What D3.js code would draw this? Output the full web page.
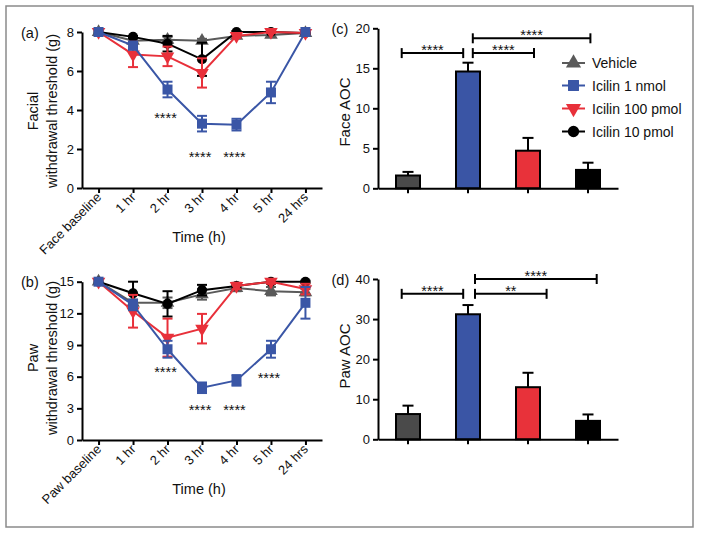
<!DOCTYPE html>
<html><head><meta charset="utf-8">
<script src="https://cdn.jsdelivr.net/npm/d3@7"></script>
<style>body{margin:0;background:#fff}svg{display:block}text{font-family:"Liberation Sans",Arial,Helvetica,sans-serif;fill:#111}</style>
</head><body><svg id="chart" width="701" height="536"></svg>
<script>
// ---------- DATA ----------
const faceCats = ["Face baseline","1 hr","2 hr","3 hr","4 hr","5 hr","24 hrs"];
const pawCats  = ["Paw baseline","1 hr","2 hr","3 hr","4 hr","5 hr","24 hrs"];
const seriesNames = ["Vehicle","Icilin 1 nmol","Icilin 100 pmol","Icilin 10 pmol"];

const faceVehicle    = [8, 7.55, 7.6, 7.55, 7.8, 7.85, 7.95];
const faceVehicleErr = [0, 0.1, 0.15, 0.1, 0.1, 0.1, 0.05];
const faceIc1n       = [8, 7.3, 5.05, 3.3, 3.25, 4.9, 8];
const faceIc1nErr    = [0, 0.2, 0.4, 0.4, 0.3, 0.55, 0];
const faceIc100p     = [8, 6.85, 6.75, 5.9, 7.8, 8.0, 7.95];
const faceIc100pErr  = [0, 0.65, 0.5, 0.75, 0.1, 0.05, 0.05];
const faceIc10p      = [8, 7.75, 7.4, 6.6, 8.0, 8.0, 7.95];
const faceIc10pErr   = [0, 0.05, 0.4, 0.85, 0.05, 0.05, 0.05];

const pawVehicle    = [15, 13.0, 13.0, 13.8, 14.4, 14.1, 14.0];
const pawVehicleErr = [0, 0.3, 0.5, 0.5, 0.3, 0.4, 0.3];
const pawIc1n       = [15, 12.8, 8.6, 4.95, 5.65, 8.6, 13.0];
const pawIc1nErr    = [0, 0.5, 0.8, 0.5, 0.5, 0.8, 1.5];
const pawIc100p     = [15, 12.2, 9.7, 10.55, 14.6, 15.0, 14.3];
const pawIc100pErr  = [0, 1.55, 1.8, 1.4, 0.3, 0.2, 0.5];
const pawIc10p      = [15, 13.9, 12.9, 14.2, 14.6, 15.0, 15.0];
const pawIc10pErr   = [0, 1.1, 1.2, 0.5, 0.2, 0.2, 0.1];

const faceAOC    = [1.6, 14.6, 4.7, 2.3];
const faceAOCErr = [0.45, 1.1, 1.6, 0.9];
const pawAOC     = [6.3, 31.2, 13.0, 4.6];
const pawAOCErr  = [2.1, 2.3, 3.6, 1.6];

const faceTicks = [0,2,4,6,8];
const pawTicks  = [0,3,6,9,12,15];
const faceAOCTicks = [0,5,10,15,20];
const pawAOCTicks  = [0,10,20,30,40];

const faceStars = [{cat:"2 hr", v:3.75, t:"****"},{cat:"3 hr", v:1.75, t:"****"},{cat:"4 hr", v:1.75, t:"****"}];
const pawStars  = [{cat:"2 hr", v:6.7, t:"****"},{cat:"3 hr", v:3.15, t:"****"},{cat:"4 hr", v:3.15, t:"****"},{cat:"5 hr", v:6.15, t:"****"}];
// brackets: from/to in group units (0 = first bar), level in data units
const faceBrackets = [{from:-0.105,to:0.92,level:16.9,t:"****"},{from:1.08,to:2.1,level:16.9,t:"****"},{from:1.08,to:3.04,level:18.75,t:"****"}];
const pawBrackets  = [{from:-0.105,to:0.92,level:36.3,t:"****"},{from:1.117,to:2.31,level:36.3,t:"**"},{from:1.117,to:3.145,level:40,t:"****"}];

// ---------- STYLE ----------
const lineColors = ["#5a5a5a","#3a56a6","#e8303a","#000000"];
const barColors  = ["#4a4a4a","#3a55a5","#e8323a","#000000"];
const symbols = [d3.symbolTriangle, d3.symbolSquare, d3.symbolTriangle, d3.symbolCircle];
const symSizes = [80, 100, 80, 80];
const symRot = [0, 0, 180, 0];
const drawOrder = [0,3,2,1];

const svg = d3.select("#chart");
svg.append("rect").attr("x",6).attr("y",6).attr("width",687).attr("height",521)
  .attr("fill","none").attr("stroke","#8a8a8a").attr("stroke-width",1.5);

function styleAxis(g){
  g.selectAll("path,line").attr("stroke","#000").attr("stroke-width",2);
  g.selectAll("text").style("font-size","13px").attr("fill","#111");
}

function linePanel(cats, seriesVals, seriesErr, ticks, yMax, yRange, stars, letter, ylab1, ylab2, labCy, timeY){
  const x = d3.scalePoint().domain(cats).range([82,322]).padding(0.48);
  const y = d3.scaleLinear().domain([0,yMax]).range(yRange);
  const gy = svg.append("g").attr("transform","translate(82,0)")
    .call(d3.axisLeft(y).tickValues(ticks).tickSize(5).tickSizeOuter(0).tickPadding(3));
  styleAxis(gy);
  const gx = svg.append("g").attr("transform",`translate(0,${yRange[0]})`)
    .call(d3.axisBottom(x).tickSize(5).tickSizeOuter(0));
  styleAxis(gx);
  gx.selectAll(".tick text").attr("transform","translate(3,10) rotate(-45)")
    .attr("x",0).attr("y",0).attr("dy",0).style("text-anchor","end");

  drawOrder.forEach(s=>{
    const vals = seriesVals[s], errs = seriesErr[s], col = lineColors[s];
    const g = svg.append("g");
    g.append("path").datum(vals.map((v,i)=>[x(cats[i]), y(v)]))
      .attr("d", d3.line()).attr("fill","none").attr("stroke",col).attr("stroke-width",2);
    vals.forEach((v,i)=>{
      const e = errs[i]; if(!e) return;
      const cx = x(cats[i]);
      g.append("line").attr("x1",cx).attr("x2",cx).attr("y1",y(v-e)).attr("y2",y(v+e)).attr("stroke",col).attr("stroke-width",2);
      [v-e, v+e].forEach(t=> g.append("line").attr("x1",cx-5).attr("x2",cx+5).attr("y1",y(t)).attr("y2",y(t)).attr("stroke",col).attr("stroke-width",2));
    });
    vals.forEach((v,i)=>{
      g.append("path").attr("d", d3.symbol().type(symbols[s]).size(symSizes[s])())
        .attr("transform",`translate(${x(cats[i])},${y(v)}) rotate(${symRot[s]})`).attr("fill",col);
    });
  });

  stars.forEach(st=>{
    svg.append("text").attr("x",x(st.cat)-2).attr("y",y(st.v)+8).attr("text-anchor","middle")
      .style("font-size","14.5px").text(st.t);
  });

  svg.append("text").attr("x",21).attr("y",yRange[1]+5.5).style("font-size","14.5px").text(letter);
  svg.append("text").attr("transform",`translate(38,${labCy}) rotate(-90)`).attr("text-anchor","middle")
    .style("font-size","14.5px").text(ylab1);
  svg.append("text").attr("transform",`translate(56.5,${labCy}) rotate(-90)`).attr("text-anchor","middle")
    .style("font-size","14.5px").text(ylab2);
  svg.append("text").attr("x",199).attr("y",timeY).attr("text-anchor","middle").style("font-size","14.5px").text("Time (h)");
}

function barPanel(vals, errs, ticks, yMax, yRange, brackets, letter, ylab, labCy){
  const x = d3.scaleBand().domain(seriesNames).range([378,618]).paddingInner(0.6).paddingOuter(0.3);
  const y = d3.scaleLinear().domain([0,yMax]).range(yRange);
  const cx = i => x(seriesNames[i]) + x.bandwidth()/2;
  const gu = u => cx(0) + u * x.step();
  vals.forEach((v,i)=>{
    const c = cx(i);
    svg.append("line").attr("x1",c).attr("x2",c).attr("y1",y(v)).attr("y2",y(v+errs[i])).attr("stroke","#000").attr("stroke-width",2);
    svg.append("line").attr("x1",c-5.5).attr("x2",c+5.5).attr("y1",y(v+errs[i])).attr("y2",y(v+errs[i])).attr("stroke","#000").attr("stroke-width",2);
    svg.append("rect").attr("x",x(seriesNames[i])).attr("y",y(v)).attr("width",x.bandwidth()).attr("height",y(0)-y(v))
      .attr("fill",barColors[i]).attr("stroke","#000").attr("stroke-width",2);
  });
  const gy = svg.append("g").attr("transform","translate(378,0)")
    .call(d3.axisLeft(y).tickValues(ticks).tickSize(5).tickSizeOuter(0).tickPadding(3));
  styleAxis(gy);
  const gx = svg.append("g").attr("transform",`translate(0,${yRange[0]})`)
    .call(d3.axisBottom(x).tickSize(5).tickSizeOuter(0).tickFormat(""));
  styleAxis(gx);
  brackets.forEach(b=>{
    const x1 = gu(b.from), x2 = gu(b.to), yy = y(b.level);
    svg.append("line").attr("x1",x1).attr("x2",x2).attr("y1",yy).attr("y2",yy).attr("stroke","#000").attr("stroke-width",2);
    [x1,x2].forEach(xx=> svg.append("line").attr("x1",xx).attr("x2",xx).attr("y1",yy-5).attr("y2",yy+5).attr("stroke","#000").attr("stroke-width",2));
    svg.append("text").attr("x",(x1+x2)/2).attr("y",yy+2).attr("text-anchor","middle").style("font-size","14.5px").text(b.t);
  });
  svg.append("text").attr("x",331.5).attr("y",yRange[1]+5.5).style("font-size","14.5px").text(letter);
  svg.append("text").attr("transform",`translate(349.5,${labCy}) rotate(-90)`).attr("text-anchor","middle")
    .style("font-size","15px").text(ylab);
}

linePanel(faceCats, [faceVehicle,faceIc1n,faceIc100p,faceIc10p], [faceVehicleErr,faceIc1nErr,faceIc100pErr,faceIc10pErr],
  faceTicks, 8, [188,32], faceStars, "(a)", "Facial", "withdrawal threshold (g)", 111, 242);
linePanel(pawCats, [pawVehicle,pawIc1n,pawIc100p,pawIc10p], [pawVehicleErr,pawIc1nErr,pawIc100pErr,pawIc10pErr],
  pawTicks, 15, [440,281.7], pawStars, "(b)", "Paw", "withdrawal threshold (g)", 358, 494);
barPanel(faceAOC, faceAOCErr, faceAOCTicks, 20, [188.3,28.3], faceBrackets, "(c)", "Face AOC", 112);
barPanel(pawAOC, pawAOCErr, pawAOCTicks, 40, [439.3,279], pawBrackets, "(d)", "Paw AOC", 356);

// legend
const legRows = [63, 85.5, 108.5, 131.5];
seriesNames.forEach((n,i)=>{
  const g = svg.append("g");
  g.append("line").attr("x1",562).attr("x2",585).attr("y1",legRows[i]).attr("y2",legRows[i]).attr("stroke",lineColors[i]).attr("stroke-width",2);
  g.append("path").attr("d", d3.symbol().type(symbols[i]).size(symSizes[i]+20)())
    .attr("transform",`translate(573.5,${legRows[i]}) rotate(${symRot[i]})`).attr("fill",lineColors[i]);
  g.append("text").attr("x",592).attr("y",legRows[i]+5).style("font-size","14px").text(n);
});
</script></body></html>
